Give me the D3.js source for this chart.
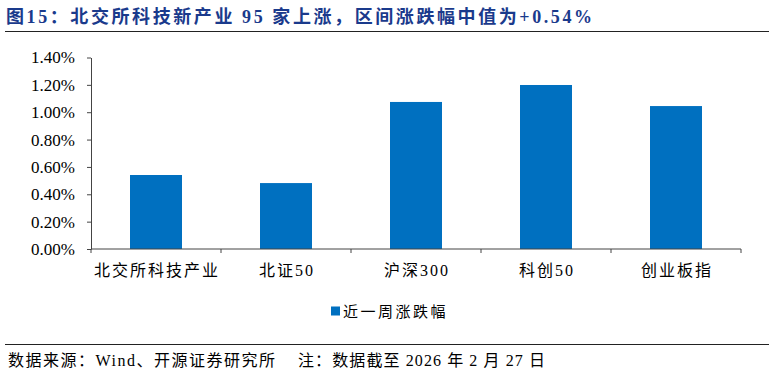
<!DOCTYPE html>
<html>
<head>
<meta charset="utf-8">
<script src="https://cdn.jsdelivr.net/npm/d3@7"></script>
<style>
body { margin: 0; background: #fff; }
svg text { font-family: "Liberation Serif", "Times New Roman", "Noto Sans CJK SC", serif; }
</style>
</head>
<body>
<div id="chart"></div>
<script>
// data
var categories = ['北交所科技产业', '北证50', '沪深300', '科创50', '创业板指'];
var weekChange = [0.541, 0.482, 1.075, 1.199, 1.045];
var yTicks = [0, 0.2, 0.4, 0.6, 0.8, 1.0, 1.2, 1.4];

var width = 774, height = 374;
var margin = { top: 57.5, left: 91, right: 33, bottom: 125 };

var svg = d3.select('#chart').append('svg')
  .attr('width', width)
  .attr('height', height);

// title + rules
svg.append('text')
  .attr('x', 6).attr('y', 23)
  .attr('textLength', 586)
  .attr('lengthAdjust', 'spacing')
  .style('font-size', '18px')
  .style('font-weight', 'bold')
  .attr('fill', '#1a3a8c')
  .text('图15：北交所科技新产业 95 家上涨，区间涨跌幅中值为+0.54%');

svg.append('line').attr('x1', 5).attr('x2', 769).attr('y1', 31.5).attr('y2', 31.5)
  .attr('stroke', '#222').attr('stroke-width', 1);
svg.append('line').attr('x1', 5).attr('x2', 769).attr('y1', 344.5).attr('y2', 344.5)
  .attr('stroke', '#222').attr('stroke-width', 1);

var x = d3.scaleBand()
  .domain(categories)
  .range([margin.left, width - margin.right])
  .paddingInner(0.6)
  .paddingOuter(0.3);

var y = d3.scaleLinear()
  .domain([0, 1.4])
  .range([height - margin.bottom, margin.top]);

// bars
svg.append('g')
  .selectAll('rect')
  .data(weekChange)
  .enter()
  .append('rect')
  .attr('x', function(d, i){ return x(categories[i]); })
  .attr('y', function(d){ return y(d); })
  .attr('width', x.bandwidth())
  .attr('height', function(d){ return y(0) - y(d); })
  .attr('fill', '#0070c0');

// y axis
var yAxis = svg.append('g')
  .attr('transform', 'translate(' + margin.left + ',0)')
  .call(d3.axisLeft(y).tickValues(yTicks).tickSize(4).tickSizeOuter(0)
    .tickFormat(function(d){ return d.toFixed(2) + '%'; }));
yAxis.selectAll('text').style('font-size', '17px').attr('fill', '#000').attr('dx', '-9px');
yAxis.select('.domain').attr('stroke', '#444');
yAxis.selectAll('.tick line').attr('stroke', '#444');

// x axis with ticks at category boundaries
var bounds = d3.range(categories.length + 1).map(function(i){ return margin.left + i * (width - margin.right - margin.left) / categories.length; });
var xAxis = svg.append('g')
  .attr('transform', 'translate(0,' + y(0) + ')');
xAxis.append('line')
  .attr('x1', margin.left).attr('x2', width - margin.right)
  .attr('stroke', '#444');
xAxis.selectAll('.bt')
  .data(bounds)
  .enter()
  .append('line')
  .attr('x1', function(d){ return d; })
  .attr('x2', function(d){ return d; })
  .attr('y2', 4)
  .attr('stroke', '#444');
xAxis.selectAll('.lbl')
  .data(categories)
  .enter()
  .append('text')
  .attr('x', function(d){ return x(d) + x.bandwidth() / 2 + 1; })
  .attr('y', 27)
  .attr('text-anchor', 'middle')
  .style('font-size', '16px')
  .style('letter-spacing', '2px')
  .text(function(d){ return d; });

// legend
var legend = svg.append('g').attr('transform', 'translate(331,306.5)');
legend.append('rect').attr('width', 9).attr('height', 9).attr('fill', '#0070c0');
legend.append('text').attr('x', 12).attr('y', 10.5)
  .style('font-size', '15px')
  .style('letter-spacing', '2.5px')
  .text('近一周涨跌幅');

// source note
svg.append('text')
  .attr('x', 8).attr('y', 366)
  .attr('textLength', 267)
  .attr('lengthAdjust', 'spacing')
  .style('font-size', '16px')
  .text('数据来源：Wind、开源证券研究所');
svg.append('text')
  .attr('x', 298).attr('y', 366)
  .attr('textLength', 247)
  .attr('lengthAdjust', 'spacing')
  .style('font-size', '16px')
  .text('注：数据截至 2026 年 2 月 27 日');
</script>
</body>
</html>
